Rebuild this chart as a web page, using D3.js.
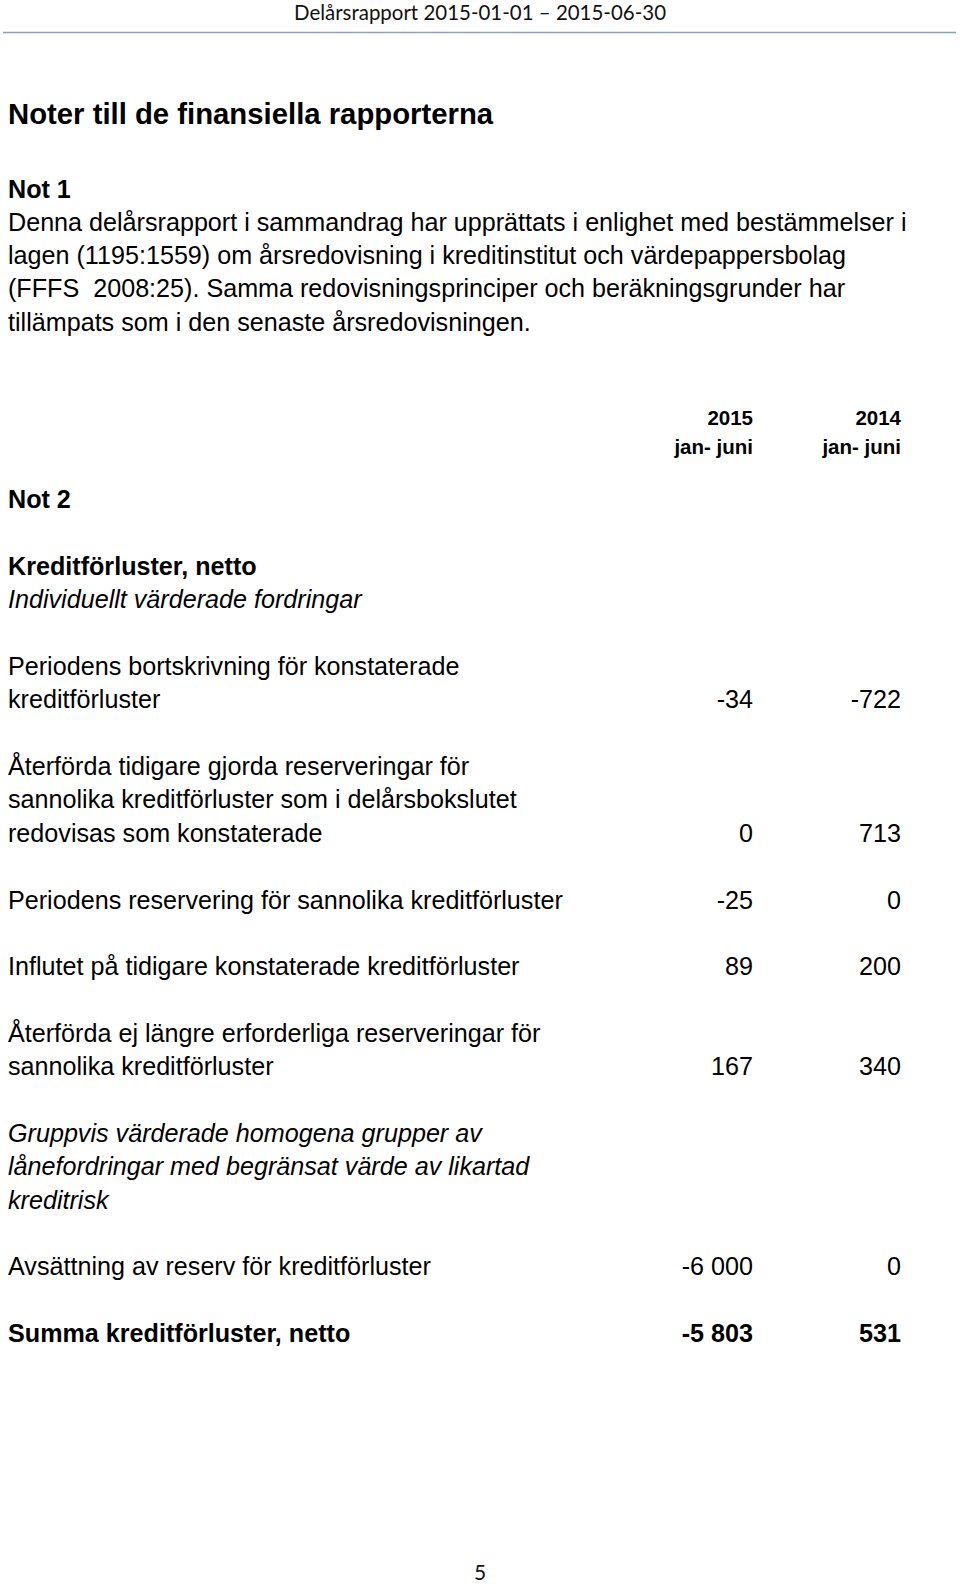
<!DOCTYPE html>
<html><head><meta charset="utf-8">
<script src="https://cdn.jsdelivr.net/npm/d3@7"></script>
<style>html,body{margin:0;padding:0;background:#fff;}svg{display:block;}text{white-space:pre;}</style>
</head><body>
<script>
// ---- data ----
const pageHeader = "Delårsrapport 2015-01-01 – 2015-06-30";
const pageTitle = "Noter till de finansiella rapporterna";
const note1Title = "Not 1";
const note1Lines = [
  "Denna delårsrapport i sammandrag har upprättats i enlighet med bestämmelser i",
  "lagen (1195:1559) om årsredovisning i kreditinstitut och värdepappersbolag",
  "(FFFS  2008:25). Samma redovisningsprinciper och beräkningsgrunder har",
  "tillämpats som i den senaste årsredovisningen."
];
const note2Title = "Not 2";
const periods = ["2015", "2014"];
const periodSub = ["jan- juni", "jan- juni"];
// table lines: line index, text, style
const tableLabels = [
  {line: 0,  text: "Kreditförluster, netto", style: "bold"},
  {line: 1,  text: "Individuellt värderade fordringar", style: "italic"},
  {line: 3,  text: "Periodens bortskrivning för konstaterade", style: "normal"},
  {line: 4,  text: "kreditförluster", style: "normal"},
  {line: 6,  text: "Återförda tidigare gjorda reserveringar för", style: "normal"},
  {line: 7,  text: "sannolika kreditförluster som i delårsbokslutet", style: "normal"},
  {line: 8,  text: "redovisas som konstaterade", style: "normal"},
  {line: 10, text: "Periodens reservering för sannolika kreditförluster", style: "normal"},
  {line: 12, text: "Influtet på tidigare konstaterade kreditförluster", style: "normal"},
  {line: 14, text: "Återförda ej längre erforderliga reserveringar för", style: "normal"},
  {line: 15, text: "sannolika kreditförluster", style: "normal"},
  {line: 17, text: "Gruppvis värderade homogena grupper av", style: "italic"},
  {line: 18, text: "lånefordringar med begränsat värde av likartad", style: "italic"},
  {line: 19, text: "kreditrisk", style: "italic"},
  {line: 21, text: "Avsättning av reserv för kreditförluster", style: "normal"},
  {line: 23, text: "Summa kreditförluster, netto", style: "bold"}
];
const valueLines = [4, 8, 10, 12, 15, 21, 23];
const values2015 = ["-34", "0", "-25", "89", "167", "-6 000", "-5 803"];
const values2014 = ["-722", "713", "0", "200", "340", "0", "531"];
const valueBold = [false, false, false, false, false, false, true];
const pageNumber = "5";

// ---- drawing ----
const W = 960, H = 1584;
const svg = d3.select("body").append("svg").attr("width", W).attr("height", H);
svg.append("rect").attr("width", W).attr("height", H).attr("fill", "#fff");

const bodyFont = "'Liberation Sans', Arial, Helvetica, sans-serif";
const hdrFont = "Lato, 'Open Sans', sans-serif";
const fs = 25.15;

// header
svg.append("text").attr("x", 480).attr("y", 20).attr("text-anchor", "middle")
  .attr("font-family", hdrFont).attr("font-size", 21).attr("fill", "#111")
  .attr("textLength", 372).attr("lengthAdjust", "spacingAndGlyphs")
  .text(pageHeader);
svg.append("line").attr("x1", 3).attr("x2", 956).attr("y1", 32.5).attr("y2", 32.5)
  .attr("stroke", "#86a2c4").attr("stroke-width", 1.6);

// title
svg.append("text").attr("x", 8).attr("y", 124).attr("font-family", bodyFont)
  .attr("font-weight", "bold").attr("font-size", 29.3).attr("fill", "#000").text(pageTitle);

// note 1
const y1 = d3.scaleLinear().domain([0, 4]).range([197.5, 197.5 + 4 * 33.3]);
svg.append("text").attr("x", 8).attr("y", y1(0)).attr("font-family", bodyFont)
  .attr("font-weight", "bold").attr("font-size", fs).text(note1Title);
svg.selectAll("text.n1").data(note1Lines).join("text").attr("class", "n1")
  .attr("x", 8).attr("y", (d, i) => y1(i + 1))
  .attr("font-family", bodyFont).attr("font-size", fs).attr("fill", "#000").text(d => d);

// table
const y = d3.scaleLinear().domain([0, 23]).range([575, 575 + 23 * 33.35]);
const x = d3.scaleOrdinal().domain(periods).range([753, 901]);

svg.append("text").attr("x", 8).attr("y", y(-2)).attr("font-family", bodyFont)
  .attr("font-weight", "bold").attr("font-size", fs).text(note2Title);

svg.selectAll("text.ph").data(periods).join("text").attr("class", "ph")
  .attr("x", d => x(d)).attr("y", 425).attr("text-anchor", "end")
  .attr("font-family", bodyFont).attr("font-weight", "bold").attr("font-size", 20.5).text(d => d);
svg.selectAll("text.ps").data(periods).join("text").attr("class", "ps")
  .attr("x", d => x(d)).attr("y", 454).attr("text-anchor", "end")
  .attr("font-family", bodyFont).attr("font-weight", "bold").attr("font-size", 20.5)
  .text((d, i) => periodSub[i]);

svg.selectAll("text.lbl").data(tableLabels).join("text").attr("class", "lbl")
  .attr("x", 8).attr("y", d => y(d.line))
  .attr("font-family", bodyFont).attr("font-size", fs).attr("fill", "#000")
  .attr("font-weight", d => d.style === "bold" ? "bold" : "normal")
  .attr("font-style", d => d.style === "italic" ? "italic" : "normal")
  .text(d => d.text);

const cells = [];
valueLines.forEach((ln, i) => {
  cells.push({line: ln, period: "2015", v: values2015[i], bold: valueBold[i]});
  cells.push({line: ln, period: "2014", v: values2014[i], bold: valueBold[i]});
});
svg.selectAll("text.val").data(cells).join("text").attr("class", "val")
  .attr("x", d => x(d.period)).attr("y", d => y(d.line)).attr("text-anchor", "end")
  .attr("font-family", bodyFont).attr("font-size", fs).attr("fill", "#000")
  .attr("font-weight", d => d.bold ? "bold" : "normal")
  .text(d => d.v);

// page number
svg.append("text").attr("x", 480).attr("y", 1580).attr("text-anchor", "middle")
  .attr("font-family", hdrFont).attr("font-size", 21).attr("fill", "#111").text(pageNumber);
</script>
</body></html>
